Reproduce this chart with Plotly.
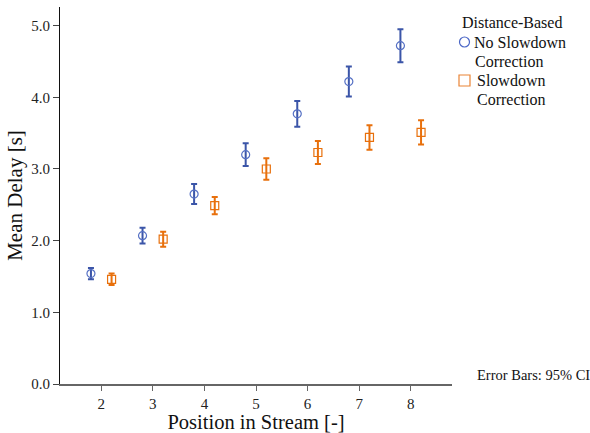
import plotly.graph_objects as go

positions = [2, 3, 4, 5, 6, 7, 8]
no_slow_mean = [1.54, 2.07, 2.65, 3.20, 3.77, 4.22, 4.72]
no_slow_ci = [0.08, 0.11, 0.14, 0.16, 0.18, 0.21, 0.23]
slow_mean = [1.46, 2.02, 2.49, 3.00, 3.23, 3.44, 3.51]
slow_ci = [0.08, 0.105, 0.12, 0.15, 0.16, 0.17, 0.17]
offset = 0.2

FONT = "Liberation Serif"
BLUE = "#3b55a8"
BLUE_M = "#5570c4"
ORANGE = "#e8700c"
ORANGE_L = "#ea8435"

# plot area geometry (pixels) for placing legend items
L, R, T, B = 60, 138, 7, 49
PW, PH = 590 - L - R, 433 - T - B


def px(xp):
    return (xp - L) / PW


def py(yp):
    return (433 - B - yp) / PH


fig = go.Figure()
fig.add_trace(go.Scatter(
    x=[p - offset for p in positions], y=no_slow_mean, mode="markers",
    name="No Slowdown Correction",
    marker=dict(symbol="circle-open", size=8, color=BLUE_M, line=dict(width=1.2)),
    error_y=dict(type="data", array=no_slow_ci, color=BLUE, thickness=2, width=3),
))
fig.add_trace(go.Scatter(
    x=[p + offset for p in positions], y=slow_mean, mode="markers",
    name="Slowdown Correction",
    marker=dict(symbol="square-open", size=8, color=ORANGE, line=dict(width=1.2)),
    error_y=dict(type="data", array=slow_ci, color=ORANGE, thickness=2, width=3),
))

txt = dict(family=FONT, size=16, color="#111")
legend_texts = [
    ("Distance-Based", 460, 22.7),
    ("No Slowdown", 472, 42.7),
    ("Correction", 473, 61.7),
    ("Slowdown", 474.7, 80.5),
    ("Correction", 474.7, 99.5),
]
for t, xx, yy in legend_texts:
    fig.add_annotation(text=t, xref="paper", yref="paper", x=px(xx), y=py(yy),
                       xanchor="left", yanchor="middle", showarrow=False, font=txt)

fig.add_shape(type="circle", xref="paper", yref="paper", xsizemode="pixel", ysizemode="pixel",
              xanchor=px(464.5), yanchor=py(42), x0=-5, x1=5, y0=-5, y1=5,
              line=dict(color="#4a66c6", width=1.2))
fig.add_shape(type="rect", xref="paper", yref="paper", xsizemode="pixel", ysizemode="pixel",
              xanchor=px(464.5), yanchor=py(80.5), x0=-5.5, x1=5.5, y0=-5.5, y1=5.5,
              line=dict(color=ORANGE_L, width=1.2))

fig.add_annotation(text="Error Bars: 95% CI", xref="paper", yref="paper",
                   x=px(474.7), y=py(375), xanchor="left", yanchor="middle",
                   showarrow=False, font=dict(family=FONT, size=14.5, color="#111"))

fig.update_layout(
    width=590, height=433,
    margin=dict(l=L, r=R, t=T, b=B),
    paper_bgcolor="white", plot_bgcolor="white",
    font=dict(family=FONT, color="#111"),
    showlegend=False,
    xaxis=dict(
        range=[1.2, 8.8], tickvals=positions, ticktext=[str(p) for p in positions],
        showline=True, linecolor="#666", linewidth=1.5,
        ticks="outside", ticklen=5, tickcolor="#666",
        showgrid=False, zeroline=False, automargin=False,
        tickfont=dict(family=FONT, size=15, color="#222"),
        title=dict(text="Position in Stream [-]", font=dict(family=FONT, size=20.5, color="#111"), standoff=0),
    ),
    yaxis=dict(
        range=[0, 5.26], tickvals=[0, 1, 2, 3, 4, 5], tickformat=".1f",
        showline=True, linecolor="#111", linewidth=1.2,
        ticks="outside", ticklen=6, tickcolor="#444",
        showgrid=False, zeroline=False, automargin=False,
        tickfont=dict(family=FONT, size=15, color="#222"),
        title=dict(text="Mean Delay [s]", font=dict(family=FONT, size=21, color="#111"), standoff=2),
    ),
)

fig.write_html("out.html")
